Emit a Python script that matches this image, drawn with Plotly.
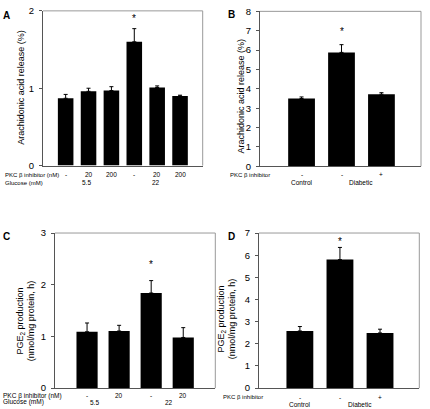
import plotly.graph_objects as go

W, H = 430, 409

# ---------------- data ----------------
a_vals = [0.87, 0.96, 0.97, 1.60, 1.01, 0.90]
a_err = [0.05, 0.04, 0.05, 0.17, 0.02, 0.01]
a_pkc = ["-", "20", "200", "-", "20", "200"]
a_glucose = ["5.5", "22"]
a_star = 1.90

b_vals = [3.50, 5.88, 3.72]
b_err = [0.08, 0.40, 0.08]
b_pkc = ["-", "-", "+"]
b_groups = ["Control", "Diabetic"]
b_star = 6.95

c_vals = [1.09, 1.105, 1.84, 0.98]
c_err = [0.17, 0.11, 0.24, 0.19]
c_pkc = ["-", "20", "-", "20"]
c_glucose = ["5.5", "22"]
c_star = 2.39

d_vals = [2.58, 5.80, 2.49]
d_err = [0.20, 0.55, 0.17]
d_pkc = ["-", "-", "+"]
d_groups = ["Control", "Diabetic"]
d_star = 6.60

FONT = "Liberation Sans, Arial, sans-serif"

def px_x(p):
    return p / W

def px_y(p):
    return 1 - p / H

panels = [
    dict(vals=a_vals, err=a_err, star=a_star, box=(43, 202.7, 5, 164),
         xr=[-0.99, 5.99], yr=[0, 2], dtick=1, width=0.68),
    dict(vals=b_vals, err=b_err, star=b_star, box=(260, 421, 5.5, 164.7),
         xr=[-1.04, 2.99], yr=[0, 8], dtick=1, width=0.67),
    dict(vals=c_vals, err=c_err, star=c_star, box=(55, 215.3, 233.3, 392.7),
         xr=[-1.0, 4.0], yr=[0, 3], dtick=1, width=0.66),
    dict(vals=d_vals, err=d_err, star=d_star, box=(259, 419.3, 233.3, 392.7),
         xr=[-1.02, 2.98], yr=[0, 7], dtick=1, width=0.67),
]

fig = go.Figure()
layout = dict(
    width=W, height=H, margin=dict(l=0, r=0, t=0, b=0),
    paper_bgcolor="white", plot_bgcolor="white", showlegend=False,
    font=dict(family=FONT, color="black"),
)
shapes = []
annotations = []

for i, p in enumerate(panels):
    n = i + 1
    xa = "x" if n == 1 else f"x{n}"
    ya = "y" if n == 1 else f"y{n}"
    l, r, t, b = p["box"]
    xs = list(range(len(p["vals"])))
    fig.add_trace(go.Bar(
        x=xs, y=p["vals"], width=p["width"], marker=dict(color="black", line=dict(width=0)),
        error_y=dict(type="data", array=p["err"], arrayminus=[0] * len(p["err"]),
                     symmetric=False, color="black", thickness=1, width=2),
        xaxis=xa, yaxis=ya, hoverinfo="skip",
    ))
    star_idx = p["vals"].index(max(p["vals"]))
    annotations.append(dict(text="*", x=star_idx, y=p["star"], xref=xa, yref=ya,
                            showarrow=False, xanchor="center", yanchor="middle",
                            font=dict(size=10, color="black", family=FONT)))
    xkey = "xaxis" if n == 1 else f"xaxis{n}"
    ykey = "yaxis" if n == 1 else f"yaxis{n}"
    layout[xkey] = dict(domain=[px_x(l), px_x(r)], range=p["xr"], anchor=ya,
                        showgrid=False, zeroline=False, showticklabels=False,
                        ticks="", showline=True, linecolor="#555", linewidth=1)
    layout[ykey] = dict(domain=[px_y(b), px_y(t)], range=p["yr"], anchor=xa,
                        dtick=p["dtick"], showgrid=False, zeroline=False,
                        ticks="outside", ticklen=3, tickcolor="#555",
                        showline=True, linecolor="#555", linewidth=1,
                        tickfont=dict(size=9.5, family=FONT), ticklabelstandoff=3)
    shapes.append(dict(type="line", xref="paper", yref="paper",
                       x0=px_x(l), x1=px_x(r), y0=px_y(t), y1=px_y(t),
                       line=dict(color="#999", width=1)))
    shapes.append(dict(type="line", xref="paper", yref="paper",
                       x0=px_x(r), x1=px_x(r), y0=px_y(t), y1=px_y(b),
                       line=dict(color="#999", width=1)))

def ann(text, x, y, size=7, xanchor="center", xref="paper", bold=False, angle=0):
    if bold:
        text = f"<b>{text}</b>"
    annotations.append(dict(text=text, x=x, y=y, xref=xref, yref="paper",
                            xanchor=xanchor, yanchor="middle", showarrow=False,
                            textangle=angle, font=dict(size=size, family=FONT, color="black")))

# panel letters
ann("A", px_x(1), px_y(10), size=10, xanchor="left", bold=True)
ann("B", px_x(226), px_y(9), size=10, xanchor="left", bold=True)
ann("C", px_x(1), px_y(237), size=10, xanchor="left", bold=True)
ann("D", px_x(226), px_y(237), size=10, xanchor="left", bold=True)

# y titles
ann("Arachidonic acid release (%)", px_x(21), px_y(84), size=9, angle=-90)
ann("Arachidonic acid release (%)", px_x(241), px_y(93), size=9, angle=-90)
ann("PGE<sub>2</sub> production<br>(nmol/mg protein, h)", px_x(26), px_y(324), size=9, angle=-90)
ann("PGE<sub>2</sub> production<br>(nmol/mg protein, h)", px_x(227), px_y(322), size=9, angle=-90)

# panel A bottom labels
ann("PKC β inhibitor (nM)", px_x(3), px_y(173.5), size=6, xanchor="left")
ann("Glucose (mM)", px_x(3), px_y(181.5), size=6, xanchor="left")
for k, t in enumerate(a_pkc):
    ann(t, k, px_y(173.5), size=6.5, xref="x")
for k, t in zip([0.9, 3.95], a_glucose):
    ann(t, k, px_y(181.5), size=6.5, xref="x")

# panel B bottom labels
ann("PKC β inhibitor", px_x(228), px_y(173.5), size=6, xanchor="left")
for k, t in enumerate(b_pkc):
    ann(t, k, px_y(173.5), size=6.5, xref="x2")
for k, t in zip([0, 1.5], b_groups):
    ann(t, k, px_y(181.5), size=6.5, xref="x2")

# panel C bottom labels
ann("PKC β inhibitor (nM)", px_x(1), px_y(400.5), size=6.5, xanchor="left")
ann("Glucose (mM)", px_x(1), px_y(407), size=6.5, xanchor="left")
for k, t in enumerate(c_pkc):
    ann(t, k, px_y(400.5), size=6.5, xref="x3")
for k, t in zip([0.22, 2.55], c_glucose):
    ann(t, k, px_y(407), size=6.5, xref="x3")

# panel D bottom labels
ann("PKC β inhibitor", px_x(221), px_y(402), size=6, xanchor="left")
for k, t in enumerate(d_pkc):
    ann(t, k, px_y(402), size=6.5, xref="x4")
for k, t in zip([0, 1.5], d_groups):
    ann(t, k, px_y(410), size=6.5, xref="x4")

layout["shapes"] = shapes
layout["annotations"] = annotations
fig.update_layout(**layout)
fig.write_html("out.html")
